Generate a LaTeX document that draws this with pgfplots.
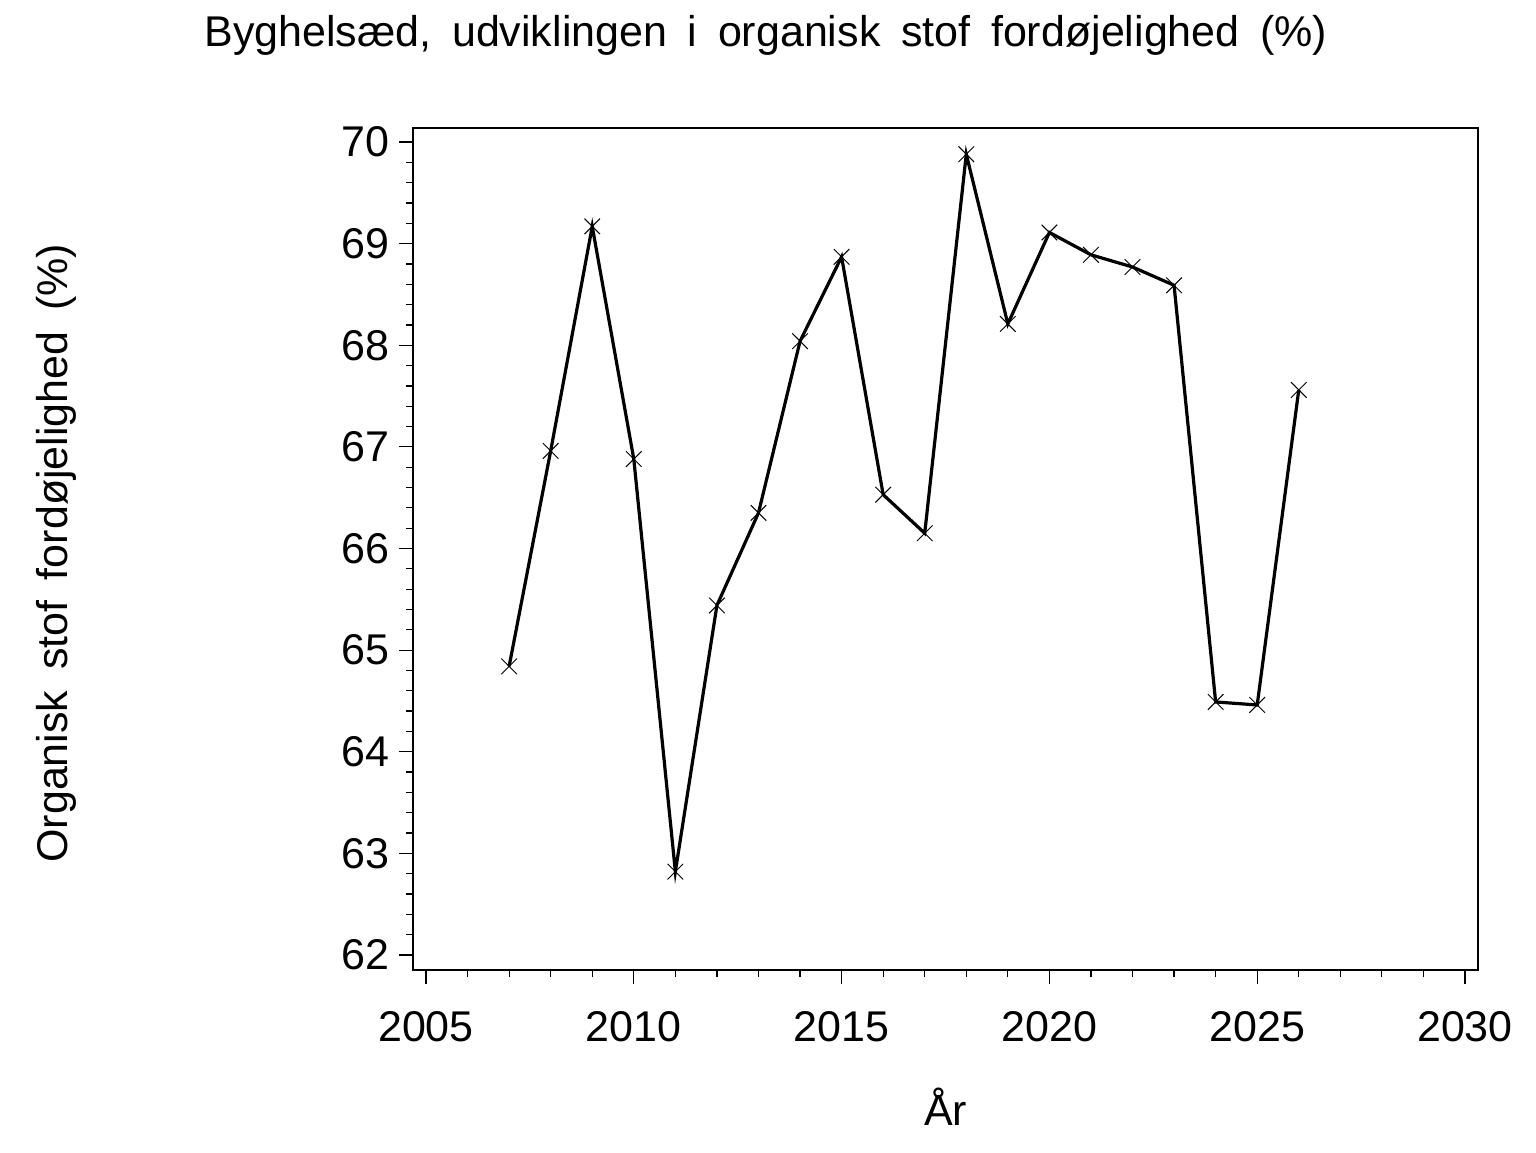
\documentclass[border=0pt]{standalone}
\usepackage{fontspec}
\setmainfont{Liberation Sans}
\usepackage{pgfplots}
\pgfplotsset{compat=1.18}
\pgfplotstableread{
year value
2007 64.84
2008 66.96
2009 69.17
2010 66.88
2011 62.82
2012 65.44
2013 66.35
2014 68.04
2015 68.87
2016 66.53
2017 66.15
2018 69.88
2019 68.21
2020 69.11
2021 68.89
2022 68.77
2023 68.59
2024 64.49
2025 64.46
2026 67.56
}\datatable
\newcommand\chartfont{\fontsize{21.5}{26}\selectfont}
\newcommand\gap{\hspace{0.48em}}
\begin{document}
\chartfont
\begin{tikzpicture}
\path[use as bounding box] (-206.5pt,-91pt) rectangle (561.5pt,485pt);
\begin{axis}[
  at={(0,0)}, anchor=south west,
  scale only axis, width=532.5pt, height=421pt,
  xmin=2004.687, xmax=2030.313, ymin=61.852, ymax=70.138,
  xtick={2005,2010,...,2030}, minor x tick num=4,
  ytick={62,63,...,70}, minor y tick num=4,
  tick align=outside, xtick pos=bottom, ytick pos=left,
  major tick length=7pt, minor tick length=3.5pt,
  axis line style={line width=0.6pt},
  every tick/.style={line width=0.6pt, black},
  /pgf/number format/assume math mode=true,
  /pgf/number format/set thousands separator={},
  ticklabel style={font=\chartfont},
  yticklabel style={inner sep=0pt, xshift=-4.5pt},
  xticklabel style={inner sep=0pt, yshift=-13.5pt},
  title={Byghelsæd,\gap udviklingen\gap i\gap organisk\gap stof\gap fordøjelighed\gap (\%)},
  title style={font=\chartfont, at={(axis description cs:0.3314,1.0820)}, anchor=base, inner sep=0pt},
  xlabel={År},
  xlabel style={font=\chartfont, at={(axis description cs:0.5,-0.1841)}, anchor=base, inner sep=0pt},
  ylabel={Organisk\gap stof\gap fordøjelighed\gap (\%)},
  ylabel style={font=\chartfont, at={(axis description cs:-0.3243,0.495)}, anchor=base, rotate=0, inner sep=0pt},
]
\addplot[black, line width=1.6pt, mark=x, mark size=5.5pt, mark options={line width=0.5pt, solid}] table[x=year, y=value] {\datatable};
\end{axis}
\end{tikzpicture}
\end{document}
